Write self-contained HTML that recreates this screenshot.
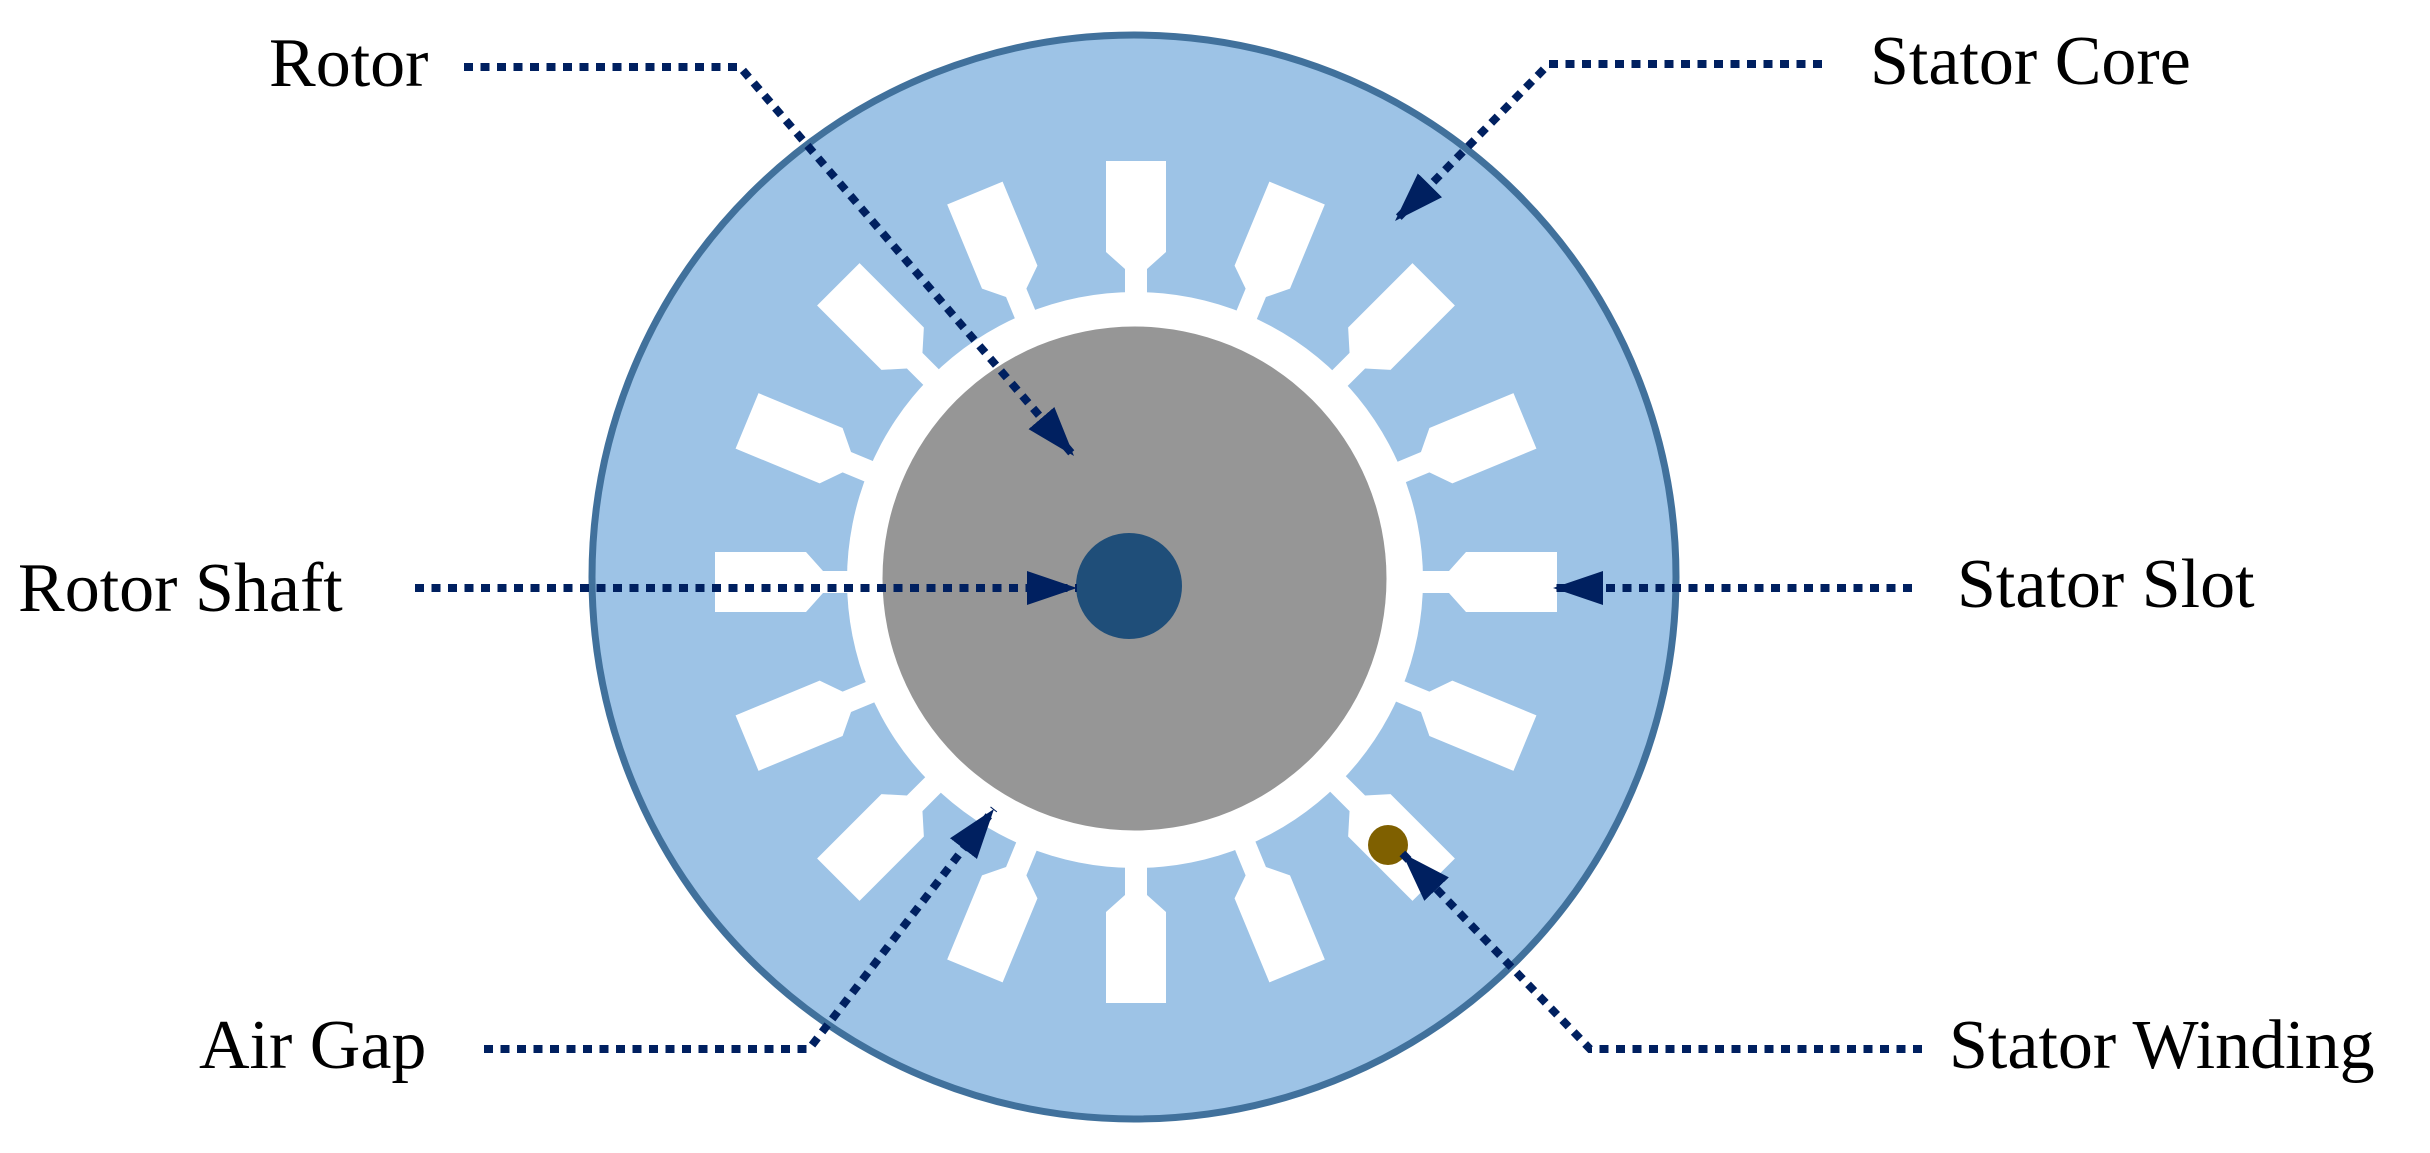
<!DOCTYPE html>
<html><head><meta charset="utf-8"><style>
html,body{margin:0;padding:0;background:#fff;}
svg{display:block;}
text{font-family:"Liberation Serif",serif;font-size:70px;fill:#000;}
</style></head><body>
<svg width="2430" height="1153" viewBox="0 0 2430 1153" xmlns="http://www.w3.org/2000/svg">
<defs>
<marker id="ah" markerUnits="userSpaceOnUse" markerWidth="52" markerHeight="36" refX="50" refY="17" orient="auto">
<path d="M0,0 L50,17 L0,34 z" fill="#002060"/>
</marker>
<polygon id="slot" points="-30,-421 30,-421 30,-330 11,-313 11,-280 -11,-280 -11,-313 -30,-330" fill="#fff"/>
</defs>
<circle cx="1134" cy="577" r="542" fill="#9DC3E6" stroke="#41719C" stroke-width="7"/>
<g transform="translate(1136,582)">
<use href="#slot" transform="rotate(0)"/>
<use href="#slot" transform="rotate(22.5)"/>
<use href="#slot" transform="rotate(45)"/>
<use href="#slot" transform="rotate(67.5)"/>
<use href="#slot" transform="rotate(90)"/>
<use href="#slot" transform="rotate(112.5)"/>
<use href="#slot" transform="rotate(135)"/>
<use href="#slot" transform="rotate(157.5)"/>
<use href="#slot" transform="rotate(180)"/>
<use href="#slot" transform="rotate(202.5)"/>
<use href="#slot" transform="rotate(225)"/>
<use href="#slot" transform="rotate(247.5)"/>
<use href="#slot" transform="rotate(270)"/>
<use href="#slot" transform="rotate(292.5)"/>
<use href="#slot" transform="rotate(315)"/>
<use href="#slot" transform="rotate(337.5)"/>
</g>
<circle cx="1135" cy="580" r="288" fill="#fff"/>
<circle cx="1134.5" cy="578.5" r="252" fill="#969696"/>
<circle cx="1129" cy="586" r="53" fill="#1F4E79"/>
<circle cx="1388" cy="845" r="20" fill="#7F6000"/>
<g fill="none" stroke="#002060" stroke-width="8" stroke-dasharray="9 7.5">
<polyline points="464,67 740,67 1074,456" marker-end="url(#ah)"/>
<polyline points="415,588 1077,588" marker-end="url(#ah)"/>
<polyline points="1822,64 1549,64 1395,221" marker-end="url(#ah)"/>
<polyline points="1912,588 1553,588" marker-end="url(#ah)"/>
<polyline points="484,1049 809,1049 994,809" marker-end="url(#ah)"/>
<polyline points="1922,1049 1590,1049 1402,853" marker-end="url(#ah)"/>
</g>
<text x="269" y="86">Rotor</text>
<text x="18" y="611">Rotor Shaft</text>
<text x="1870" y="84">Stator Core</text>
<text x="1957" y="607">Stator Slot</text>
<text x="199" y="1068">Air Gap</text>
<text x="1949" y="1068">Stator Winding</text>
</svg>
</body></html>
